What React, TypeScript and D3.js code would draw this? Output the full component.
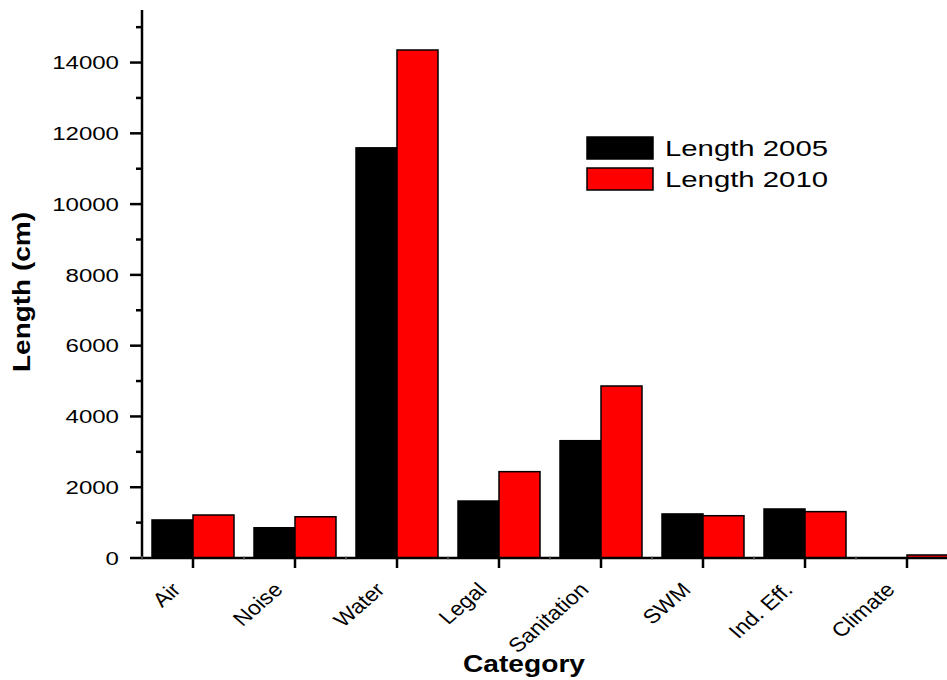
import React from "react";
import * as d3 from "d3";

const categories = ["Air", "Noise", "Water", "Legal", "Sanitation", "SWM", "Ind. Eff.", "Climate"];
const length2005 = [1075, 855, 11590, 1610, 3315, 1245, 1385, 0];
const length2010 = [1215, 1165, 14355, 2440, 4860, 1195, 1310, 85];
const seriesNames = ["Length 2005", "Length 2010"];
const seriesColors = ["#000000", "#ff0000"];
const yMajorTicks = [0, 2000, 4000, 6000, 8000, 10000, 12000, 14000];
const yMinorTicks = [1000, 3000, 5000, 7000, 9000, 11000, 13000, 15000];

const W = 947;
const H = 680;
const X0 = 142;
const STEP = 102;
const Y0 = 558;
const YTOP = 10;

export default function App() {
  const x0 = d3
    .scaleBand<string>()
    .domain(categories)
    .range([X0, X0 + categories.length * STEP])
    .padding(0);
  const x1 = d3
    .scaleBand<string>()
    .domain(seriesNames)
    .range([0, x0.bandwidth()])
    .paddingInner(0)
    .paddingOuter(0.244);
  const y = d3.scaleLinear().domain([0, 15485]).range([Y0, YTOP]);

  const series = [length2005, length2010];
  const font = "Arial, 'Liberation Sans', sans-serif";

  return (
    <svg
      width={W}
      height={H}
      style={{ position: "absolute", left: 0, top: 0, background: "#fff" }}
      fontFamily={font}
    >
      {/* bars */}
      {categories.map((c, i) => (
        <g key={c}>
          {series.map((vals, s) => {
            const v = vals[i];
            const bx = (x0(c) as number) + (x1(seriesNames[s]) as number);
            const bw = x1.bandwidth();
            if (v <= 0) return null;
            return (
              <rect
                key={s}
                x={bx}
                y={y(v)}
                width={bw}
                height={Y0 - y(v)}
                fill={seriesColors[s]}
                stroke="#000"
                strokeWidth={1.5}
              />
            );
          })}
        </g>
      ))}

      {/* y axis */}
      <line x1={X0} x2={X0} y1={YTOP} y2={Y0 + 1} stroke="#000" strokeWidth={2.5} />
      {yMajorTicks.map((t) => (
        <g key={t}>
          <line x1={X0 - 12} x2={X0} y1={y(t)} y2={y(t)} stroke="#000" strokeWidth={2.5} />
          <text
            transform={`translate(119,${y(t)}) scale(1.3,1)`}
            textAnchor="end"
            dy="0.36em"
            fontSize={18.5}
            fill="#000"
          >
            {t}
          </text>
        </g>
      ))}
      {yMinorTicks.map((t) => (
        <line key={t} x1={X0 - 6} x2={X0} y1={y(t)} y2={y(t)} stroke="#000" strokeWidth={2.5} />
      ))}

      {/* x axis */}
      <line x1={X0 - 1} x2={W} y1={Y0} y2={Y0} stroke="#000" strokeWidth={2.5} />
      {categories.map((c) => {
        const cx = (x0(c) as number) + x0.bandwidth() / 2;
        return (
          <g key={c}>
            <line x1={cx} x2={cx} y1={Y0} y2={Y0 + 10} stroke="#000" strokeWidth={2.5} />
            <line
              x1={x0(c) as number}
              x2={x0(c) as number}
              y1={Y0 - 2}
              y2={Y0 + 2}
              stroke="#888"
              strokeWidth={1}
            />
            <text
              transform={`translate(${cx - 11},${Y0 + 33}) scale(1.15,1) rotate(-45)`}
              textAnchor="end"
              fontSize={20}
              fill="#000"
            >
              {c}
            </text>
          </g>
        );
      })}

      {/* axis titles */}
      <text
        x={524}
        y={672}
        textAnchor="middle"
        fontSize={23}
        fontWeight="bold"
        textLength={122}
        lengthAdjust="spacingAndGlyphs"
        fill="#000"
      >
        Category
      </text>
      <text
        transform={`translate(30,292) rotate(-90)`}
        textAnchor="middle"
        fontSize={23}
        fontWeight="bold"
        textLength={160}
        lengthAdjust="spacingAndGlyphs"
        fill="#000"
      >
        Length (cm)
      </text>

      {/* legend */}
      {seriesNames.map((n, s) => (
        <g key={n} transform={`translate(0,${s * 31})`}>
          <rect
            x={587}
            y={137}
            width={66}
            height={22}
            fill={seriesColors[s]}
            stroke="#000"
            strokeWidth={1.5}
          />
          <text
            x={665}
            y={156}
            fontSize={22}
            textLength={163}
            lengthAdjust="spacingAndGlyphs"
            fill="#000"
          >
            {n}
          </text>
        </g>
      ))}
    </svg>
  );
}
